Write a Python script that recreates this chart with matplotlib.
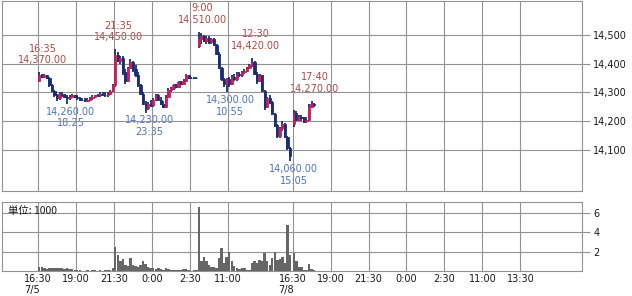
import numpy as np
import matplotlib.pyplot as plt

# 10-minute bars. x axis = trading hours since 7/5 16:30 with the breaks cut out
session_start = [0.0, 10.5, 16.75]     # 7/5 night, 7/8 day, 7/8 night
session_bars = [63, 37, 9]

opens = [
    14340, 14360, 14355, 14360, 14350, 14325, 14305, 14290, 14280, 14295,
    14290, 14285, 14280, 14285, 14290, 14285, 14280, 14275, 14275, 14270,
    14275, 14280, 14285, 14290, 14290, 14295, 14292, 14290, 14295, 14305,
    14325, 14430, 14410, 14420, 14370, 14340, 14385, 14405, 14380, 14360,
    14325, 14295, 14260, 14245, 14260, 14255, 14275, 14290, 14275, 14260,
    14250, 14285, 14310, 14315, 14325, 14320, 14335, 14330, 14340, 14360,
    14350, 14350, 14350,
    14460, 14485, 14495, 14480, 14490, 14475, 14485, 14465, 14435, 14385,
    14345, 14330, 14345, 14330, 14355, 14345, 14365, 14360, 14370, 14375,
    14385, 14395, 14405, 14365, 14340, 14360, 14305, 14250, 14280, 14265,
    14225, 14185, 14150, 14175, 14190, 14145, 14105,
    14190, 14230, 14205, 14215, 14210, 14200, 14205, 14250, 14260,
]
highs = [
    14370, 14365, 14365, 14362, 14355, 14330, 14310, 14295, 14300, 14300,
    14295, 14290, 14290, 14295, 14292, 14290, 14285, 14280, 14280, 14280,
    14285, 14290, 14292, 14295, 14300, 14300, 14300, 14300, 14310, 14330,
    14450, 14440, 14425, 14425, 14380, 14390, 14415, 14410, 14395, 14370,
    14330, 14300, 14270, 14265, 14275, 14280, 14295, 14295, 14285, 14270,
    14290, 14315, 14320, 14330, 14330, 14340, 14340, 14345, 14365, 14362,
    14355, 14355, 14352,
    14510, 14505, 14500, 14495, 14495, 14490, 14490, 14470, 14440, 14390,
    14350, 14350, 14355, 14360, 14365, 14370, 14370, 14375, 14380, 14390,
    14400, 14420, 14410, 14370, 14365, 14362, 14310, 14285, 14290, 14270,
    14230, 14190, 14180, 14200, 14195, 14150, 14110,
    14240, 14235, 14220, 14220, 14215, 14215, 14260, 14270, 14262,
]
lows = [
    14335, 14350, 14350, 14345, 14320, 14300, 14285, 14270, 14275, 14285,
    14280, 14260, 14275, 14280, 14280, 14275, 14270, 14270, 14265, 14265,
    14270, 14275, 14280, 14285, 14285, 14290, 14285, 14285, 14290, 14300,
    14320, 14405, 14400, 14360, 14330, 14335, 14380, 14370, 14355, 14320,
    14290, 14255, 14230, 14240, 14250, 14250, 14270, 14270, 14255, 14245,
    14248, 14280, 14300, 14310, 14315, 14315, 14325, 14325, 14335, 14345,
    14345, 14345, 14345,
    14455, 14470, 14475, 14470, 14470, 14470, 14460, 14430, 14380, 14340,
    14320, 14300, 14320, 14325, 14340, 14340, 14355, 14355, 14365, 14370,
    14380, 14390, 14360, 14330, 14335, 14300, 14240, 14245, 14260, 14220,
    14180, 14140, 14140, 14165, 14140, 14100, 14060,
    14180, 14200, 14200, 14200, 14195, 14195, 14200, 14245, 14250,
]
closes = [
    14360, 14355, 14360, 14350, 14325, 14305, 14290, 14280, 14295, 14290,
    14285, 14280, 14285, 14290, 14285, 14280, 14275, 14275, 14270, 14275,
    14280, 14285, 14290, 14290, 14295, 14292, 14290, 14295, 14305, 14325,
    14430, 14410, 14420, 14370, 14340, 14385, 14405, 14380, 14360, 14325,
    14295, 14260, 14245, 14260, 14255, 14275, 14290, 14275, 14260, 14250,
    14285, 14310, 14315, 14325, 14320, 14335, 14330, 14340, 14360, 14350,
    14350, 14350, 14350,
    14485, 14495, 14480, 14490, 14475, 14485, 14465, 14435, 14385, 14345,
    14330, 14345, 14330, 14355, 14345, 14365, 14360, 14370, 14375, 14385,
    14395, 14405, 14365, 14340, 14360, 14305, 14250, 14280, 14265, 14225,
    14185, 14150, 14175, 14190, 14145, 14105, 14080,
    14230, 14205, 14215, 14210, 14200, 14205, 14250, 14260, 14255,
]
volumes = [
    0.45, 0.45, 0.30, 0.25, 0.30, 0.30, 0.30, 0.35, 0.30, 0.30,
    0.25, 0.35, 0.20, 0.20, 0.15, 0.08, 0.06, 0.05, 0.05, 0.06,
    0.05, 0.08, 0.06, 0.05, 0.06, 0.05, 0.06, 0.08, 0.15, 0.30,
    2.50, 1.65, 1.00, 1.25, 0.60, 0.50, 1.35, 0.60, 0.50, 0.45,
    0.60, 1.00, 0.70, 0.40, 0.35, 0.30, 0.25, 0.30, 0.20, 0.15,
    0.35, 0.25, 0.15, 0.15, 0.15, 0.10, 0.10, 0.25, 0.20, 0.10,
    0.05, 0.10, 0.15,
    6.65, 1.00, 1.50, 1.00, 0.60, 0.45, 0.45, 0.30, 1.30, 2.35,
    0.80, 1.50, 2.00, 1.05, 0.50, 0.30, 0.20, 0.35, 0.30, 0.15,
    0.15, 0.80, 1.00, 0.80, 1.15, 1.00, 1.85, 1.00, 0.60, 1.30,
    2.00, 1.15, 1.20, 1.50, 0.80, 4.75, 1.65,
    1.85, 1.00, 0.45, 0.45, 0.15, 0.15, 0.75, 0.20, 0.15,
]

# high / low markers: bar index, time text, which side
ann_bar = [0, 11, 30, 42, 63, 74, 84, 99, 107]
ann_time = ["16:35", "18:25", "21:35", "23:35", "9:00", "10:55", "12:30", "15:05", "17:40"]
ann_side = ["high", "low", "high", "low", "high", "low", "high", "low", "high"]

tick_pos = [0, 2.5, 5, 7.5, 10, 12.5, 16.75, 19.25, 21.75, 24.25, 26.75, 29.25, 31.75]
tick_lab = ["16:30\n7/5", "19:00", "21:30", "0:00", "2:30", "11:00", "16:30\n7/8",
            "19:00", "21:30", "0:00", "2:30", "11:00", "13:30"]
price_ticks = [14100, 14200, 14300, 14400, 14500]
vol_ticks = [2, 4, 6]

opens, highs, lows, closes = map(np.array, (opens, highs, lows, closes))
xs = np.concatenate([s + (np.arange(n) + 0.5) / 6 for s, n in zip(session_start, session_bars)])

red = "#cc1f55"
navy = "#1b2d78"
grid_c = "#929292"

fig = plt.figure(figsize=(6.32, 2.96), dpi=100)
ax = fig.add_axes([2 / 632, 1 - 191 / 296, 580 / 632, 190 / 296])
axv = fig.add_axes([2 / 632, 1 - 271 / 296, 580 / 632, 69 / 296])

for a in (ax, axv):
    a.set_xlim(-2.37, 35.8)
    a.set_xticks(tick_pos)
    a.grid(True, color=grid_c, lw=0.8)
    a.set_axisbelow(False)
    for sp in a.spines.values():
        sp.set_color(grid_c)
        sp.set_linewidth(0.8)
    a.yaxis.tick_right()
    a.tick_params(axis="y", length=6, width=0.8, color=grid_c, pad=2,
                  labelsize=7, labelcolor="#1a1a1a")
    a.tick_params(axis="x", length=0)

# candles
up = closes > opens
cols = np.where(up, red, navy)
ax.vlines(xs, lows, highs, color=navy, lw=1.3, zorder=3)
ax.bar(xs, np.abs(closes - opens), bottom=np.minimum(opens, closes), width=0.15,
       color=cols, edgecolor=cols, linewidth=0.6, zorder=3.5)

ax.set_ylim(13957, 14618)
ax.set_yticks(price_ticks)
ax.set_yticklabels([f"{v:,}" for v in price_ticks])
ax.tick_params(axis="x", labelbottom=False)

for i, t, side in zip(ann_bar, ann_time, ann_side):
    if side == "high":
        ax.annotate(f"{t}\n{highs[i]:,.2f}", (xs[i], highs[i]), xytext=(2.5, 5),
                    textcoords="offset points", ha="center", va="bottom",
                    fontsize=7, color="#b4463f", zorder=2)
    else:
        ax.annotate(f"{lows[i]:,.2f}\n{t}", (xs[i], lows[i]), xytext=(2.5, -2),
                    textcoords="offset points", ha="center", va="top",
                    fontsize=7, color="#4a72c4", zorder=2)

# volume
axv.bar(xs, volumes, width=0.16, color="#666666", linewidth=0, zorder=3)
axv.set_ylim(0, 7.15)
axv.set_yticks(vol_ticks)
axv.set_xticklabels(tick_lab)
axv.tick_params(axis="x", pad=2, labelsize=7, labelcolor="#1a1a1a")
for lab in axv.get_xticklabels():
    lab.set_multialignment("left")
axv.text(0.01, 0.87, "単位: 1000", transform=axv.transAxes, fontsize=7.5,
         va="center", ha="left", color="#1a1a1a",
         family=["Noto Sans CJK JP", "DejaVu Sans"])

fig.savefig("out.png", dpi=100)
